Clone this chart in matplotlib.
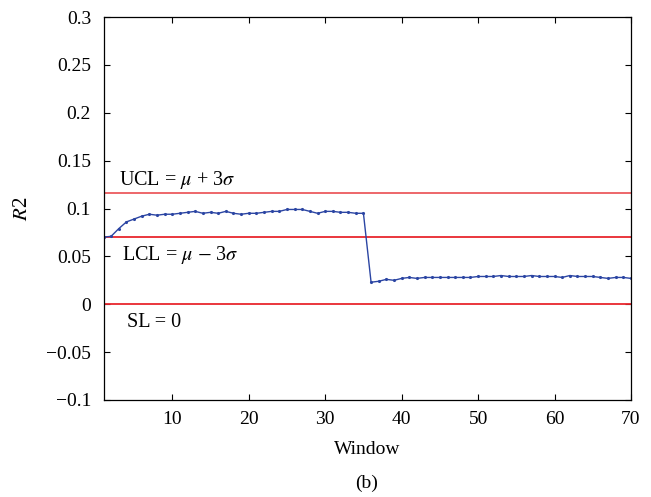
import matplotlib

matplotlib.use("Agg")
import matplotlib.pyplot as plt  # noqa: E402

# R2 per window
windows = list(range(1, 71))
r2 = [
    0.070, 0.071, 0.079, 0.086, 0.089, 0.092, 0.094, 0.093, 0.094, 0.094,
    0.095, 0.096, 0.097, 0.095, 0.096, 0.095, 0.097, 0.095, 0.094, 0.095,
    0.095, 0.096, 0.097, 0.097, 0.099, 0.099, 0.099, 0.097, 0.095, 0.097,
    0.097, 0.096, 0.096, 0.095, 0.095, 0.023, 0.024, 0.026, 0.025, 0.027,
    0.028, 0.027, 0.028, 0.028, 0.028, 0.028, 0.028, 0.028, 0.028, 0.029,
    0.029, 0.029, 0.030, 0.029, 0.029, 0.029, 0.030, 0.029, 0.029, 0.029,
    0.028, 0.030, 0.029, 0.029, 0.029, 0.028, 0.027, 0.028, 0.028, 0.027,
]

ucl = 0.116
lcl = 0.0705
sl = 0.0

yticks = [-0.1, -0.05, 0, 0.05, 0.1, 0.15, 0.2, 0.25, 0.3]
ytick_labels = ["\u22120.1", "\u22120.05", "0", "0.05", "0.1", "0.15", "0.2", "0.25", "0.3"]
xticks = [10, 20, 30, 40, 50, 60, 70]

plt.rcParams["font.family"] = ["Liberation Serif", "DejaVu Serif"]
plt.rcParams["mathtext.fontset"] = "stix"

fig = plt.figure(figsize=(6.51, 4.97), dpi=100)
ax = fig.add_axes([103.5 / 651, 1 - 400 / 497, (631 - 103.5) / 651, (400 - 17) / 497])

red = "#e8262d"
ax.axhline(ucl, color="#ec5a5e", lw=1.3)
ax.axhline(lcl, color=red, lw=1.3)
ax.axhline(sl, color=red, lw=1.3)

ax.plot(windows, r2, color="#2b45a3", lw=1.0, marker=".", ms=2.5)

ytr = ax.get_yaxis_transform()
ax.text(0.03, ucl + 0.0135, r"UCL = $\mu$ + 3$\sigma$", transform=ytr, fontsize=14.5, va="center")
ax.text(0.035, lcl - 0.0195, r"LCL = $\mu$ $-$ 3$\sigma$", transform=ytr, fontsize=14.5, va="center")
ax.text(0.045, sl - 0.019, "SL = 0", transform=ytr, fontsize=14.5, va="center")

ax.set_xlim(1, 70)
ax.set_ylim(-0.1, 0.3)
ax.set_xticks(xticks)
ax.set_yticks(yticks)
ax.set_yticklabels(ytick_labels)
ax.tick_params(direction="in", length=4, labelsize=14, top=True, right=True)
ax.tick_params(axis="y", pad=9)
ax.tick_params(axis="x", pad=8)
ax.set_xlabel("Window", fontsize=14, labelpad=9)
ax.set_ylabel(r"$R$2", fontsize=15)
ax.yaxis.set_label_coords(-0.136, 0.5)
for s in ax.spines.values():
    s.set_linewidth(0.9)

fig.text(367 / 651, 1 - 483 / 497, "(b)", ha="center", va="center", fontsize=14)

fig.savefig("out.png", dpi=100)
